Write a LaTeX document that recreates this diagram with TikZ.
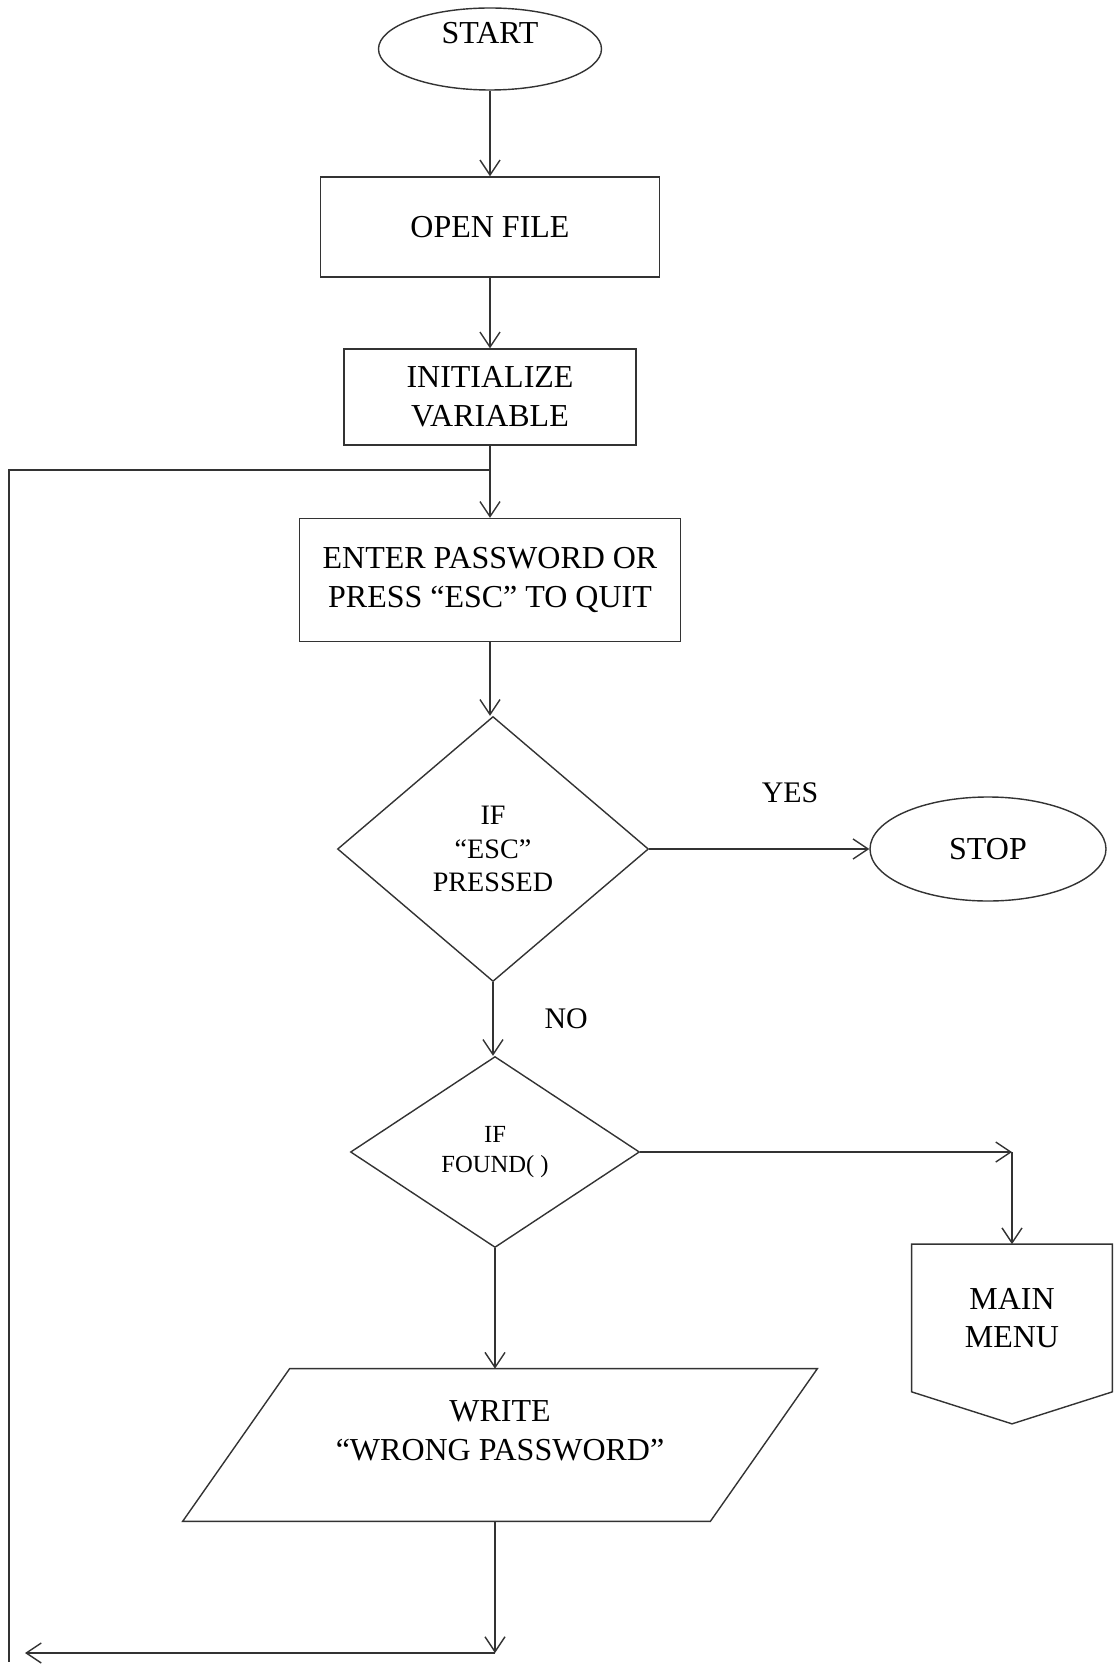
\documentclass[tikz,border=0pt]{standalone}
\usepackage{fontspec}
\setmainfont{Liberation Serif}
\usetikzlibrary{shapes.geometric,arrows.meta,calc}

\tikzset{
  flow/.style={draw=black!80, line width=0.8pt},
  arr/.style={flow, -{Straight Barb[length=3mm,width=4mm]}},
  procbox/.style={flow, rectangle, align=center, inner sep=0pt, font=\fontsize{18.2}{22}\selectfont},
  term/.style={flow, ellipse, align=center, inner sep=0pt, font=\fontsize{18.2}{22}\selectfont},
  decide/.style={flow, diamond, aspect=1.2, align=center, inner sep=0pt, font=\fontsize{16}{19}\selectfont},
  plain/.style={align=center, inner sep=0pt, font=\fontsize{18.2}{22}\selectfont},
  lbl/.style={font=\fontsize{17}{20}\selectfont},
}

\begin{document}
\begin{tikzpicture}[x=0.2mm,y=-0.2mm]
  \useasboundingbox (0,0) rectangle (1115,1668);

  % main column
  \node[term, minimum width=44.6mm, minimum height=16.4mm, text height=4.6mm, text depth=6.8mm] (start) at (490,49) {START};
  \node[procbox, minimum width=67.8mm, minimum height=20mm] (open) at (490,227) {OPEN FILE};
  \node[procbox, minimum width=58.4mm, minimum height=19.2mm] (init) at (490,397) {INITIALIZE\\VARIABLE};
  \node[procbox, minimum width=76.2mm, minimum height=24.6mm] (enter) at (490,580) {ENTER PASSWORD OR\\PRESS “ESC” TO QUIT};
  \node[decide, minimum width=62.2mm, minimum height=53mm] (esc) at (493,849) {IF\\“ESC”\\PRESSED};
  \node[term, minimum width=47.2mm, minimum height=20.8mm] (stop) at (988,849) {STOP};
  \node[decide, minimum width=57.8mm, minimum height=38.2mm, font=\fontsize{14}{17.5}\selectfont] (found) at (495,1152) {IF\\FOUND( )};
  \node[plain, minimum width=40mm, minimum height=29.4mm] (menu) at (1012,1318) {MAIN\\MENU};
  \node[plain, minimum width=126.8mm, minimum height=30.4mm] (wrong) at (500,1445) {WRITE\\“WRONG PASSWORD”\\[-2mm]};

  % outlines drawn round plain nodes
  \draw[flow] (menu.north west) -- (menu.north east) -- (menu.south east)
    -- ($(menu.south)+(0,32)$) -- (menu.south west) -- cycle;
  \draw[flow] ($(wrong.north west)+(107,0)$) -- (wrong.north east)
    -- ($(wrong.south east)+(-107,0)$) -- (wrong.south west) -- cycle;

  \coordinate (turn) at (1012,1152);
  \coordinate (join) at (490,470);
  \coordinate (looptop) at (9,470);
  \coordinate (loopbot) at (9,1662);
  \coordinate (down) at (495,1653);
  \coordinate (back) at (25,1653);

  % connectors
  \draw[arr] (start) -- (open);
  \draw[arr] (open) -- (init);
  \draw[arr] (init) -- (enter);
  \draw[arr] (enter) -- (enter |- esc.north);
  \draw[arr] (esc) -- node[lbl, above=8mm, pos=0.64] {YES} (stop);
  \draw[arr] (esc.south) -- node[lbl, right=9mm] {NO} (esc.south |- found.north);
  \draw[arr] (found.east) -- (turn);
  \draw[arr] (turn) -- (menu.north);
  \draw[arr] (found) -- (found |- wrong.north);
  \draw[arr] (found |- wrong.south) -- (down);
  \draw[arr] (down) -- (back);
  \draw[flow] (join) -- (looptop) -- (loopbot);
\end{tikzpicture}
\end{document}
